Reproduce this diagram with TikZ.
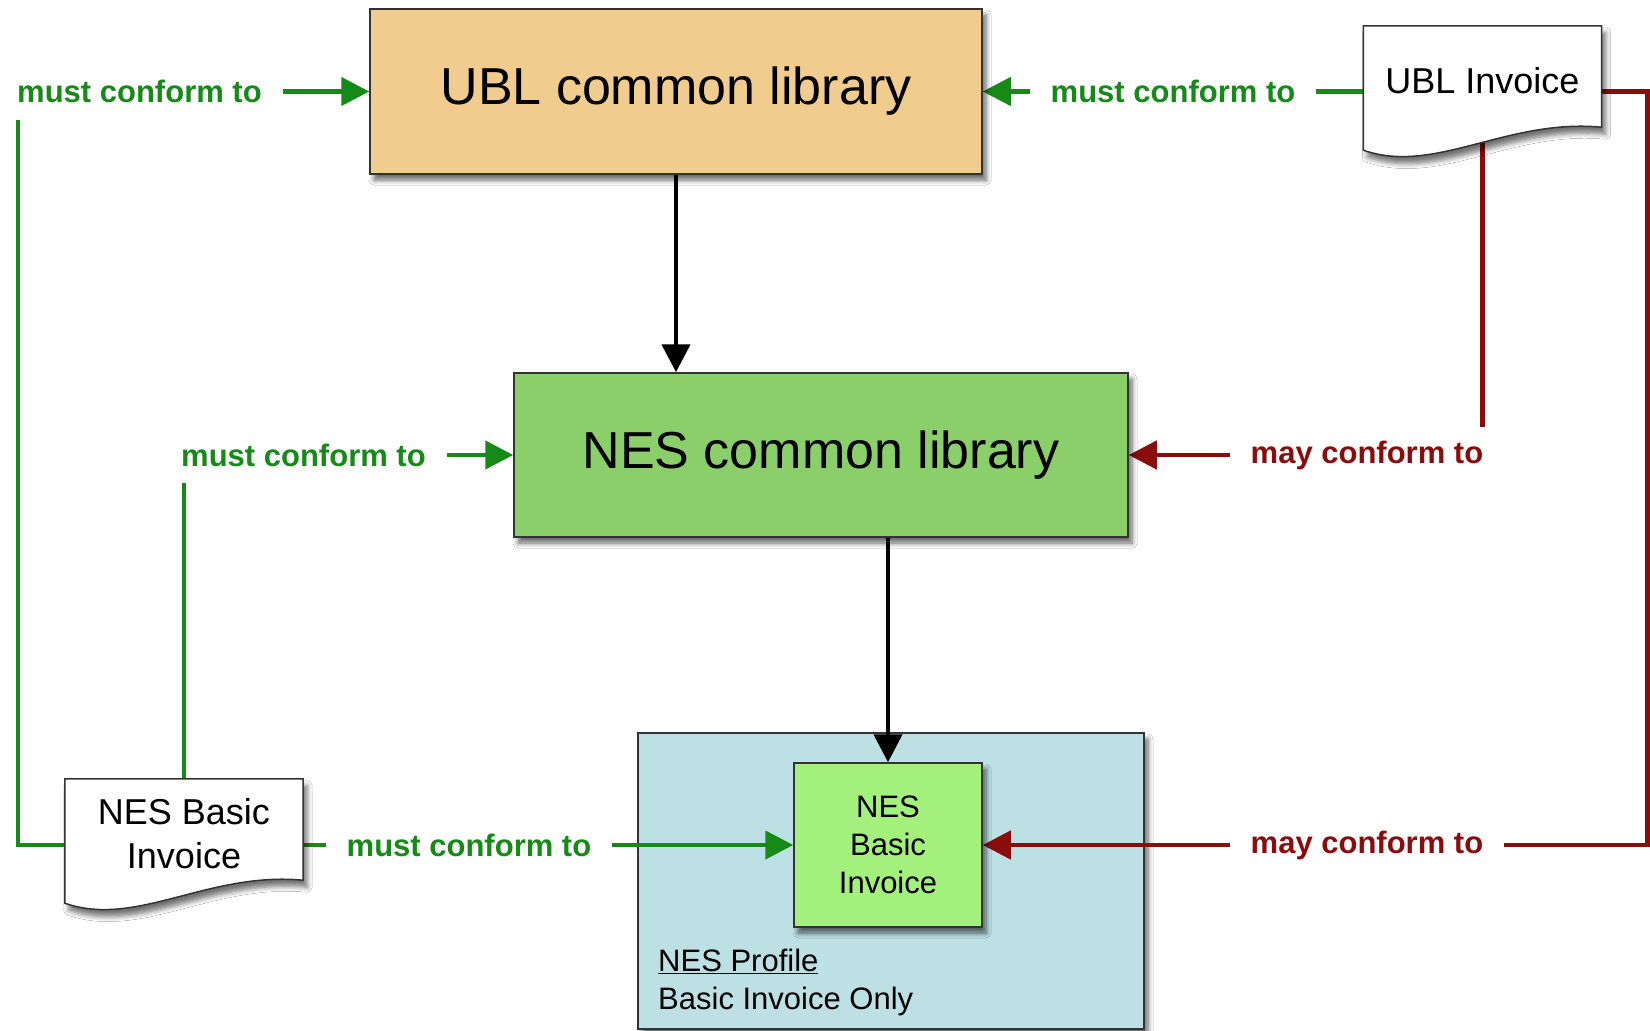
\documentclass[tikz,border=0pt]{standalone}
\usepackage{fontspec}
\setmainfont{Liberation Sans}
\usetikzlibrary{calc,positioning,shadows,shadows.blur}
\usetikzlibrary{arrows.meta}
\tikzset{>={Triangle[length=28pt,width=28pt]}}

\definecolor{ublfill}{RGB}{240,204,142}
\definecolor{nesfill}{RGB}{139,207,106}
\definecolor{basicfill}{RGB}{163,240,125}
\definecolor{proffill}{RGB}{189,224,228}
\definecolor{mustgreen}{RGB}{22,138,22}
\definecolor{mayred}{RGB}{138,12,12}

\pgfdeclarelayer{lines}
\pgfsetlayers{lines,main}

% paper sheet with a wavy lower edge round a document node
\newcommand{\docshape}[1]{%
  \draw[black!80, line width=1.5pt, fill=white, blur shadow={shadow blur steps=6, shadow xshift=4pt, shadow yshift=-7pt, shadow blur radius=5pt, shadow opacity=55}]
    (#1.north west) -- (#1.north east) -- ($(#1.south east)+(0,-9)$)
    .. controls ($(#1.south west)!0.6!(#1.south east)+(0,-18)$) and ($(#1.south west)!0.3!(#1.south east)+(0,39)$)
    .. ($(#1.south west)+(0,14)$) -- cycle;}

\begin{document}
\begin{tikzpicture}[x=1pt, y=-1pt]
          \tikzstyle{libbox} = [draw=black!80, line width=1.5pt, inner sep=0pt, align=center, blur shadow={shadow blur steps=6, shadow xshift=4pt, shadow yshift=-6pt, shadow blur radius=5pt, shadow opacity=60}]
          \tikzstyle{docnode} = [inner sep=0pt, minimum width=238pt, minimum height=110pt]
          \tikzstyle{doctext} = [inner sep=0pt, align=center, font=\fontsize{36}{44}\selectfont]
          \tikzstyle{conf} = [fill=white, inner xsep=21pt, inner ysep=0pt, minimum height=56pt, font=\fontsize{31}{36}\selectfont\bfseries]
          \tikzstyle{must} = [draw=mustgreen, line width=4.5pt]
          \tikzstyle{may} = [draw=mayred, line width=4.5pt]
          \tikzstyle{flow} = [draw=black, line width=4.5pt]

          \useasboundingbox (0,0) rectangle (1650,1031);

          \node[libbox, fill=ublfill, minimum width=612pt, minimum height=165pt, font=\fontsize{52}{60}\selectfont] (ubl) at (676,91.5) {UBL common library};
          \node[libbox, fill=nesfill, minimum width=614pt, minimum height=164pt, font=\fontsize{52}{60}\selectfont] (nescommon) at (821,455) {NES common library};
          \node[libbox, fill=basicfill, minimum width=188pt, minimum height=164pt, font=\fontsize{31}{38}\selectfont] (basic) at (888,845) {NES\\Basic\\Invoice};
          \node[anchor=west, align=left, inner sep=0pt, font=\fontsize{31}{38}\selectfont] (proftext) at (658,982) {\underline{NES Profile}\\Basic Invoice Only};

          \node[docnode] (ublinv) at (1482.5,81) {};
          \docshape{ublinv}
          \node[doctext] (ublinvtext) at (ublinv) {UBL Invoice};
          \node[docnode] (nesdoc) at (184,834) {};
          \docshape{nesdoc}
          \node[doctext] (nesdoctext) at (nesdoc) {NES Basic\\Invoice};

          \node[conf, text=mustgreen] (musta) at (139.5,91.5) {must conform to};
          \node[conf, text=mustgreen] (mustb) at (1173,91.5) {must conform to};
          \node[conf, text=mustgreen] (mustc) at (303.5,455) {must conform to};
          \node[conf, text=mustgreen] (mustd) at (469,845) {must conform to};
          \node[conf, text=mayred] (maya) at (1367,455) {may conform to};
          \node[conf, text=mayred] (mayb) [below=334pt of maya] {may conform to};

          \begin{pgfonlayer}{lines}
            \fill[white] (0,0) rectangle (1650,1031);
            \node[libbox, fill=proffill, minimum width=506pt, minimum height=296pt] (profile) at (891,881) {};

            \draw[flow, ->] (ubl.south) -- (ubl.south |- nescommon.north);
            \draw[flow, ->] (nescommon.south -| basic.north) -- (basic.north);

            \draw[must, ->] (nesdoc.west |- basic.west) -- ++(-47,0) |- (ubl.west);
            \draw[must, ->] (ublinv.west |- ubl.east) -- (ubl.east);
            \draw[must, ->] (nesdoc.north) |- (nescommon.west);
            \draw[must, ->] (nesdoc.east |- basic.west) -- (basic.west);

            \draw[may, ->] (ublinv.south) |- (nescommon.east);
            \draw[may, ->] (ublinv.east |- ubl.east) -- ++(46,0) |- (basic.east);
          \end{pgfonlayer}
\end{tikzpicture}
\end{document}
